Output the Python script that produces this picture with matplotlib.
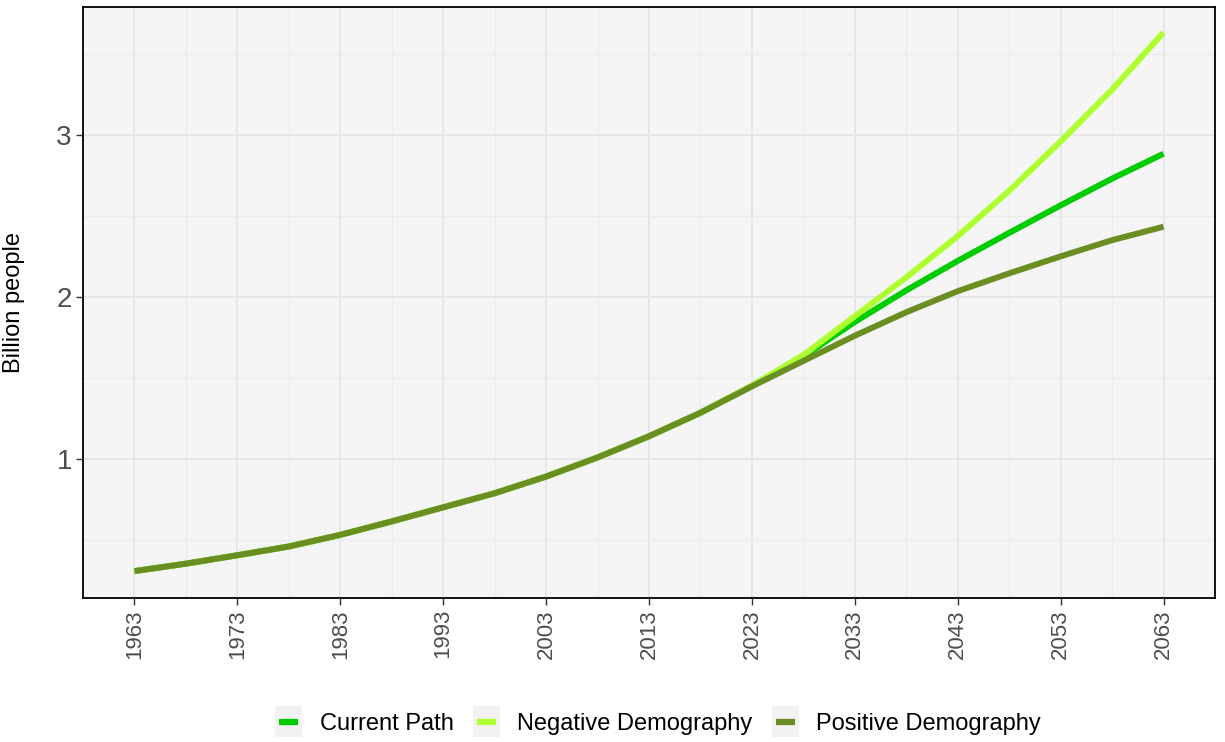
import numpy as np
import matplotlib
matplotlib.use("Agg")
import matplotlib.pyplot as plt
from matplotlib.lines import Line2D
from matplotlib.patches import Rectangle
from matplotlib.legend_handler import HandlerLine2D

plt.rcParams['font.family'] = ['Liberation Sans', 'DejaVu Sans']

# ── data (billion people) ────────────────────────────────────────────────────
years = [1963, 1968, 1973, 1978, 1983, 1988, 1993, 1998, 2003, 2008,
         2013, 2018, 2023, 2028, 2033, 2038, 2043, 2048, 2053, 2058, 2063]

current_path = [0.306, 0.352, 0.404, 0.458, 0.530, 0.613, 0.700, 0.787, 0.890, 1.008,
                1.139, 1.284, 1.449, 1.632, 1.845, 2.040, 2.222, 2.395, 2.565, 2.730, 2.884]
negative_demo = [0.306, 0.352, 0.404, 0.458, 0.530, 0.613, 0.700, 0.787, 0.890, 1.008,
                 1.139, 1.284, 1.452, 1.640, 1.880, 2.120, 2.375, 2.655, 2.960, 3.280, 3.633]
positive_demo = [0.306, 0.352, 0.404, 0.458, 0.530, 0.613, 0.700, 0.787, 0.890, 1.008,
                 1.139, 1.284, 1.447, 1.604, 1.760, 1.905, 2.035, 2.145, 2.250, 2.350, 2.433]

series = [
    ("Current Path", current_path, "#00CD00"),
    ("Negative Demography", negative_demo, "#ADFF2F"),
    ("Positive Demography", positive_demo, "#6B8E23"),
]

x_major = list(range(1963, 2064, 10))
x_minor = list(range(1968, 2064, 10))
y_major = [1, 2, 3]
y_minor = [0.5, 1.5, 2.5, 3.5]

# ── figure ───────────────────────────────────────────────────────────────────
fig = plt.figure(figsize=(12.25, 7.42), dpi=100)
ax = fig.add_axes([83 / 1225, 1 - 598 / 742, (1215 - 83) / 1225, (598 - 7) / 742])
ax.set_facecolor("#F5F5F5")

for name, vals, col in series:
    ax.plot(years, vals, color=col, lw=4.3, label=name, solid_capstyle="butt",
            solid_joinstyle="round", zorder=3)

ax.set_xlim(1958, 2068)
ax.set_ylim(0.14, 3.79)
ax.set_xticks(x_major)
ax.set_xticks(x_minor, minor=True)
ax.set_yticks(y_major)
ax.set_yticks(y_minor, minor=True)
ax.set_xticklabels([str(v) for v in x_major], rotation=90)

ax.grid(which="major", color="#E6E6E6", lw=1.4, zorder=0)
ax.grid(which="minor", color="#EBEBEB", lw=1.0, zorder=0)
ax.set_axisbelow(True)

for sp in ax.spines.values():
    sp.set_color("black")
    sp.set_linewidth(1.3)

ax.tick_params(axis="both", which="major", length=5, width=1.0, color="#333333",
               labelcolor="#4D4D4D", pad=3)
ax.tick_params(axis="y", which="major", labelsize=20)
ax.tick_params(axis="x", which="major", labelsize=16)
ax.tick_params(which="minor", length=0)

ax.set_ylabel("Billion people", fontsize=17, color="black")
ax.yaxis.set_label_coords(-0.051, 0.5)


# legend keys with grey background boxes, ggplot-like
class KeyHandler(HandlerLine2D):
    def create_artists(self, legend, orig_handle, xdescent, ydescent, width, height,
                       fontsize, trans):
        pad = 0.2 * fontsize
        box = Rectangle((-xdescent, -ydescent - pad), width, height + 2 * pad,
                        facecolor="#F2F2F2", edgecolor="none", transform=trans)
        cy = -ydescent + height / 2
        ln = Line2D([-xdescent + 0.15 * width, -xdescent + 0.85 * width], [cy, cy],
                    color=orig_handle.get_color(), lw=4.5, solid_capstyle="butt",
                    transform=trans)
        return [box, ln]


handles, labels = ax.get_legend_handles_labels()
fig.legend(handles, labels, loc="center", bbox_to_anchor=(658 / 1225, 1 - 723 / 742),
           ncol=3, frameon=False, fontsize=17, handlelength=1.15, handleheight=1.0,
           handletextpad=0.75, columnspacing=0.8,
           handler_map={Line2D: KeyHandler()})

fig.savefig("out.png", dpi=100)
